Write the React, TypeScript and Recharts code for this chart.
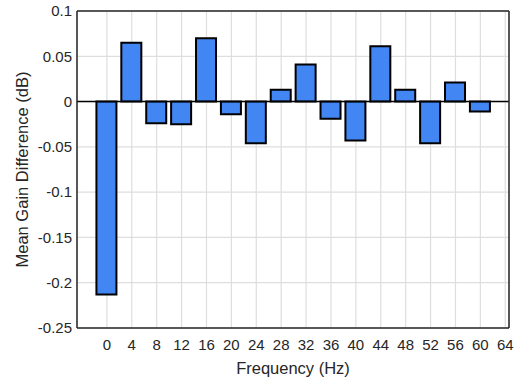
import { BarChart, Bar, XAxis, YAxis, CartesianGrid, ReferenceLine } from 'recharts';

const frequencies = [0, 4, 8, 12, 16, 20, 24, 28, 32, 36, 40, 44, 48, 52, 56, 60];
const gainDiff = [
  -0.213, 0.065, -0.024, -0.025, 0.07, -0.014, -0.046, 0.013,
  0.041, -0.019, -0.043, 0.061, 0.013, -0.046, 0.021, -0.011,
];
const xTicks = [0, 4, 8, 12, 16, 20, 24, 28, 32, 36, 40, 44, 48, 52, 56, 60, 64];
const yTicks = [-0.25, -0.2, -0.15, -0.1, -0.05, 0, 0.05, 0.1];
const xDomain = [-4.8, 64.6];
const yDomain = [-0.25, 0.1];

const data = frequencies.map((f, i) => ({ freq: f, gain: gainDiff[i] }));

const axisColor = '#262626';
const font = '"Liberation Sans", Arial, sans-serif';
const line = { stroke: axisColor, strokeWidth: 1.5 };

// frame + inward tick marks (mirrored axes take no layout space)
function frameX(id: string, orientation: 'top' | 'bottom') {
  return (
    <XAxis
      xAxisId={id}
      orientation={orientation}
      mirror
      dataKey="freq"
      type="number"
      domain={xDomain}
      ticks={xTicks}
      allowDataOverflow
      height={5}
      axisLine={line}
      tickLine={line}
      tickSize={5}
      tick={false}
    />
  );
}

function frameY(id: string, orientation: 'left' | 'right') {
  return (
    <YAxis
      yAxisId={id}
      orientation={orientation}
      mirror
      type="number"
      domain={yDomain}
      ticks={yTicks}
      allowDataOverflow
      width={5}
      axisLine={line}
      tickLine={line}
      tickSize={5}
      tick={false}
    />
  );
}

export default function App() {
  return (
    <div style={{ position: 'absolute', left: 0, top: 0, background: '#fff' }}>
      <BarChart
        width={519}
        height={379}
        data={data}
        margin={{ top: 11, right: 10, left: 0, bottom: 0 }}
        style={{ fontFamily: font }}
      >
        <CartesianGrid stroke="#dedede" strokeWidth={1.2} />
        <Bar
          dataKey="gain"
          fill="#4286f4"
          stroke="#000"
          strokeWidth={2}
          barSize={20}
          isAnimationActive={false}
        />
        <ReferenceLine y={0} stroke="#000" strokeWidth={1.5} />
        <XAxis
          dataKey="freq"
          type="number"
          domain={xDomain}
          ticks={xTicks}
          allowDataOverflow
          height={51}
          axisLine={false}
          tickLine={false}
          tickSize={0}
          tickMargin={11}
          tick={{ fill: axisColor, fontSize: 15 }}
          label={{
            content: ({ viewBox }: any) => (
              <text
                x={viewBox.x + viewBox.width / 2}
                y={viewBox.y + 46}
                textAnchor="middle"
                fill={axisColor}
                fontSize={16.5}
              >
                Frequency (Hz)
              </text>
            ),
          }}
        />
        <YAxis
          type="number"
          domain={yDomain}
          ticks={yTicks}
          allowDataOverflow
          width={77}
          axisLine={false}
          tickLine={false}
          tickSize={0}
          tickMargin={5}
          tick={{ fill: axisColor, fontSize: 15 }}
          tickFormatter={(v: number) => String(Number(v.toFixed(2)))}
          label={{
            content: ({ viewBox }: any) => (
              <text
                x={22}
                y={viewBox.y + viewBox.height / 2}
                textAnchor="middle"
                fill={axisColor}
                fontSize={16.5}
                transform={`rotate(-90 22 ${viewBox.y + viewBox.height / 2})`}
                dominantBaseline="central"
              >
                Mean Gain Difference (dB)
              </text>
            ),
          }}
        />
        {frameX('bottomFrame', 'bottom')}
        {frameX('topFrame', 'top')}
        {frameY('leftFrame', 'left')}
        {frameY('rightFrame', 'right')}
      </BarChart>
    </div>
  );
}
